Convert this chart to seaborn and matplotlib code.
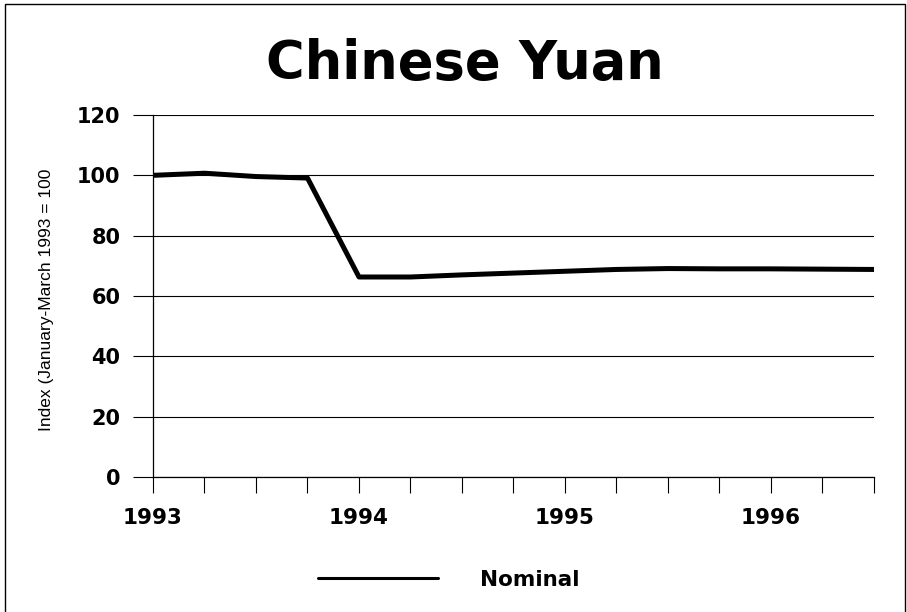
import pandas as pd
import matplotlib.pyplot as plt
import seaborn as sns
from matplotlib.lines import Line2D

# 분기별 지수 (1993년 1분기 = 100)
quarters = ['1993Q1', '1993Q2', '1993Q3', '1993Q4',
            '1994Q1', '1994Q2', '1994Q3', '1994Q4',
            '1995Q1', '1995Q2', '1995Q3', '1995Q4',
            '1996Q1', '1996Q2', '1996Q3']
nominal = [100.0, 100.7, 99.6, 99.1,
           66.3, 66.3, 67.0, 67.6,
           68.2, 68.8, 69.1, 69.0,
           69.0, 68.9, 68.8]
year_labels = ['1993', '1994', '1995', '1996']
y_ticks = [0, 20, 40, 60, 80, 100, 120]

df = pd.DataFrame({'quarter': quarters, 'Nominal': nominal})
df['t'] = [int(q[:4]) + (int(q[-1]) - 1) / 4 for q in quarters]

sns.set_style('white')
plt.rcParams['font.family'] = ['DejaVu Sans']
plt.rcParams['text.color'] = 'black'
plt.rcParams['xtick.color'] = 'black'
plt.rcParams['ytick.color'] = 'black'

fig = plt.figure(figsize=(9.07, 6.12), dpi=100)
ax = fig.add_axes([153 / 907, 1 - 477 / 612, (874 - 153) / 907, (477 - 115) / 612])

sns.lineplot(data=df, x='t', y='Nominal', color='black', linewidth=3.6, ax=ax, legend=False)

ax.set_xlim(df['t'].min(), df['t'].max())
ax.set_ylim(0, 120)
ax.set_yticks(y_ticks)
ax.set_yticklabels([str(v) for v in y_ticks], fontsize=15, fontweight='bold')
ax.set_xticks([df['t'].min() + i * 0.25 for i in range(len(quarters))])
ax.set_xticklabels([''] * len(quarters))
for yl in year_labels:
    ax.text(int(yl), -13.6, yl, ha='center', va='center', fontsize=15.5, fontweight='bold',
            transform=ax.transData, clip_on=False)
ax.yaxis.grid(True, color='black', linewidth=0.8)
ax.tick_params(axis='y', left=True, length=14.4, width=0.8, color='black', pad=9)
ax.tick_params(axis='x', bottom=True, length=11.5, width=0.8, color='black')
for s in ['top', 'right']:
    ax.spines[s].set_visible(False)
for s in ['left', 'bottom']:
    ax.spines[s].set_color('black')
    ax.spines[s].set_linewidth(0.9)

ax.set_xlabel('')
ax.set_ylabel('')
fig.text(47 / 907, 1 - 300 / 612, 'Index (January-March 1993 = 100', rotation=90,
         ha='center', va='center', fontsize=12.5,
         family=['Liberation Sans Narrow', 'Liberation Sans', 'DejaVu Sans'])

fig.text(465 / 907, 1 - 64 / 612, 'Chinese Yuan', ha='center', va='center', fontsize=38,
         fontweight='bold')

# 범례
fig.add_artist(Line2D([318 / 907, 438 / 907], [1 - 578 / 612, 1 - 578 / 612],
                      color='black', linewidth=2.2, transform=fig.transFigure))
fig.text(480 / 907, 1 - 580 / 612, 'Nominal', ha='left', va='center', fontsize=15.5,
         fontweight='bold')

# 테두리
fig.add_artist(plt.Rectangle((5 / 907, -0.01), 900 / 907, 1 - 4 / 612 + 0.01, fill=False,
                             edgecolor='black', linewidth=1, transform=fig.transFigure))

fig.savefig('out.png', dpi=100)
